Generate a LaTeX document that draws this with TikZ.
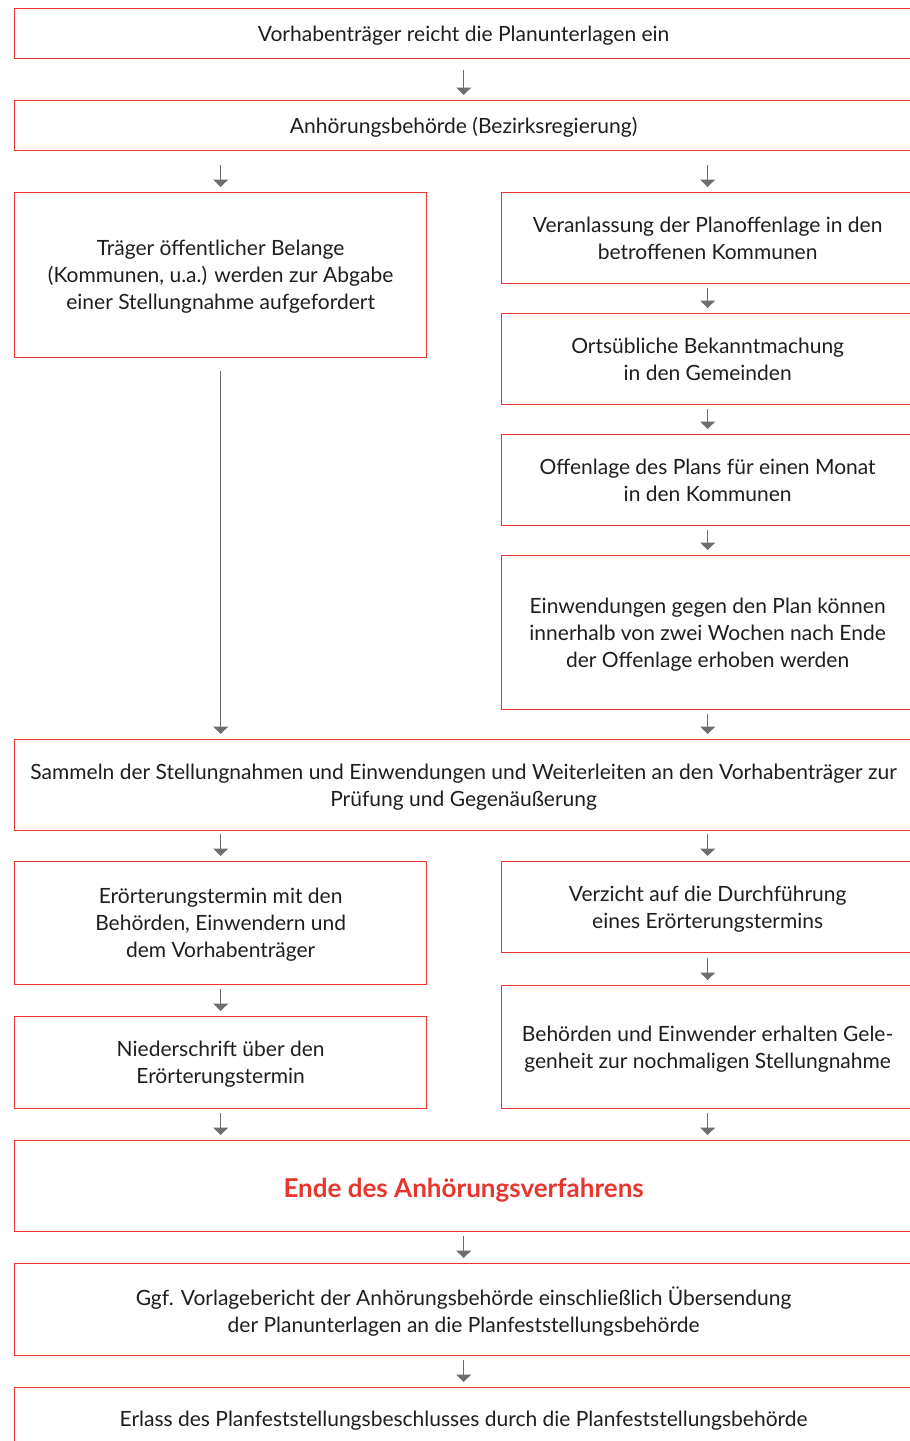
\documentclass[tikz,border=0pt]{standalone}
\usepackage{fontspec}
\setmainfont{Lato}
\usetikzlibrary{arrows.meta}
\definecolor{boxred}{HTML}{E8362E}
\definecolor{arrgray}{HTML}{6E6E6E}
\definecolor{txt}{HTML}{1E1E1E}
\begin{document}
\begin{tikzpicture}[x=1pt,y=-1pt,
  box/.style={draw=boxred, line width=1.3pt, anchor=north west, inner sep=0pt,
    text depth=0pt, align=center, text=txt, font=\fontsize{21}{27}\selectfont},
  full/.style={box, minimum width=898pt},
  leftcol/.style={box, minimum width=412pt},
  rightcol/.style={box, minimum width=412pt},
  flow/.style={draw=arrgray, line width=1.3pt,
    -{Triangle[width=15pt,length=7.5pt]}, shorten >=5pt},
]
\useasboundingbox (0,0) rectangle (910,1441);
\clip (0,0) rectangle (910,1441);

% main column
\node[full, minimum height=50pt] (b1) at (14,8) {Vorhabenträger reicht die Planunterlagen ein};
\node[full, minimum height=50pt] (b2) at (14,100) {Anhörungsbehörde (Bezirksregierung)};

% left branch
\node[leftcol, minimum height=165pt] (l1) at (14,192) {Träger öffentlicher Belange\\(Kommunen, u.a.) werden zur Abgabe\\einer Stellungnahme aufgefordert};

% right branch
\node[rightcol, minimum height=91pt] (r1) at (501,192) {Veranlassung der Planoffenlage in den\\betroffenen Kommunen};
\node[rightcol, minimum height=91pt] (r2) at (501,313) {Ortsübliche Bekanntmachung\\in den Gemeinden};
\node[rightcol, minimum height=91pt] (r3) at (501,434) {Offenlage des Plans für einen Monat\\in den Kommunen};
\node[rightcol, minimum height=154pt] (r4) at (501,555) {Einwendungen gegen den Plan können\\innerhalb von zwei Wochen nach Ende\\der Offenlage erhoben werden};

% merge
\node[full, minimum height=91pt] (s) at (14,739) {Sammeln der Stellungnahmen und Einwendungen und Weiterleiten an den Vorhabenträger zur\\Prüfung und Gegenäußerung};

% second split
\node[leftcol, minimum height=123pt] (l5) at (14,861) {Erörterungstermin mit den\\Behörden, Einwendern und\\dem Vorhabenträger};
\node[leftcol, minimum height=92pt] (l6) at (14,1016) {Niederschrift über den\\Erörterungstermin};
\node[rightcol, minimum height=91pt] (r5) at (501,861) {Verzicht auf die Durchführung\\eines Erörterungstermins};
\node[rightcol, minimum height=123pt] (r6) at (501,985) {Behörden und Einwender erhalten Gele-\\genheit zur nochmaligen Stellungnahme};

% end of hearing
\node[full, minimum height=91pt, text=boxred, font=\fontsize{26}{32}\selectfont\bfseries] (e) at (14,1140) {\raisebox{-3pt}{Ende des Anhörungsverfahrens}};
\node[full, minimum height=92pt] (g) at (14,1263) {Ggf. Vorlagebericht der Anhörungsbehörde einschließlich Übersendung\\der Planunterlagen an die Planfeststellungsbehörde};
\node[full, minimum height=62pt] (z) at (14,1387) {Erlass des Planfeststellungsbeschlusses durch die Planfeststellungsbehörde};

% connectors: short arrows sit just above the box they point to
\draw[flow] (b2.north) ++(0,-30) -- (b2.north);
\draw[flow] (l1.north) ++(0,-27) -- (l1.north);
\draw[flow] (r1.north) ++(0,-27) -- (r1.north);
\draw[flow] (r2.north) ++(0,-25) -- (r2.north);
\draw[flow] (r3.north) ++(0,-25) -- (r3.north);
\draw[flow] (r4.north) ++(0,-25) -- (r4.north);
\draw[flow] (r4.south |- s.north) ++(0,-25) -- (r4.south |- s.north);
\draw[flow, shorten <=13pt] (l1.south) -- (l1.south |- s.north);
\draw[flow] (l5.north) ++(0,-27) -- (l5.north);
\draw[flow] (r5.north) ++(0,-27) -- (r5.north);
\draw[flow] (l6.north) ++(0,-27) -- (l6.north);
\draw[flow] (r6.north) ++(0,-27) -- (r6.north);
\draw[flow] (l6.south |- e.north) ++(0,-27) -- (l6.south |- e.north);
\draw[flow] (r6.south |- e.north) ++(0,-27) -- (r6.south |- e.north);
\draw[flow] (g.north) ++(0,-27) -- (g.north);
\draw[flow] (z.north) ++(0,-27) -- (z.north);
\end{tikzpicture}
\end{document}
